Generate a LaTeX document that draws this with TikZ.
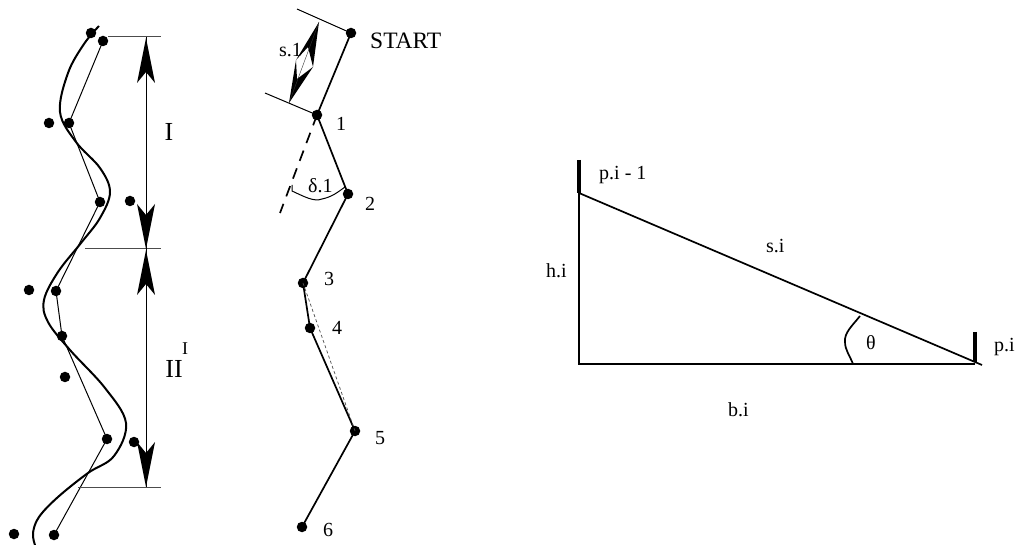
\documentclass[tikz,border=0pt]{standalone}
\usepackage{fontspec}
\setmainfont{Liberation Serif}
\tikzset{
  x=1pt,y=-1pt,
  dot/.style={circle,fill=black,inner sep=0pt,minimum size=10.5pt},
  thinline/.style={line width=1pt,black},
  midline/.style={line width=1.7pt,black},
  boldline/.style={line width=2pt,black},
  tickline/.style={line width=1pt,black!70},
  lab/.style={inner sep=0pt,font=\fontsize{20}{20}\selectfont},
  biglab/.style={inner sep=0pt,font=\fontsize{26}{26}\selectfont},
  pics/barb/.style={code={\fill[black] (0,0)--(-9,-45)--(0,-34)--(9,-45)--cycle;}}
}
\begin{document}
\begin{tikzpicture}
\useasboundingbox (0,0) rectangle (1018,545);
% left panel
\draw[boldline,line join=round] plot[smooth,tension=0.6] coordinates {(99,26) (84,44) (68,73) (60,112) (76,142) (100,168) (110,192) (100,218) (81,243) (58,272) (44,300) (48,322) (70,350) (105,388) (126,423) (114,456) (88,473) (58,497) (39,517) (33,533) (35,545)};
\foreach \n/\p in {a1/{91,33},b1/{103,41},a2/{49,123},b2/{69,123},b3/{100,202},a3/{130,201},a4/{29,290},b4/{56,291},b5/{62,336},a5/{65,377},b6/{107,439},a6/{134,442},a7/{14,534},b7/{54,535}}
  \node[dot] (\n) at (\p) {};
\draw[thinline] (b1.center)--(b2.center)--(b3.center)--(b4.center)--(b5.center)--(b6.center)--(b7.center);
\coordinate (t1) at (146,37); \coordinate (t2) at (146,249); \coordinate (t3) at (146,487);
\draw[tickline] (108,37)--(161,37);
\draw[tickline] (85,249)--(161,249);
\draw[tickline] (78,487)--(161,487);
\draw[thinline] (t1)--(t2);
\draw[thinline] (t2)--(t3);
\pic[yscale=-1] at (146,38) {barb};
\pic at (146,249) {barb};
\pic[yscale=-1] at (146,250) {barb};
\pic at (146,487) {barb};
\node[biglab] (I) at (169,132) {I};
\node[biglab] (II) at (174,369) {II};
\node[lab,font=\fontsize{18}{18}\selectfont] (Isup) at (185,349) {I};
% middle panel
\node[dot] (S) at (351,33) {};
\node[dot] (n1) at (317,115) {};
\node[dot] (n2) at (348,194) {};
\node[dot] (n3) at (303,283) {};
\node[dot] (n4) at (310,328) {};
\node[dot] (n5) at (355,431) {};
\node[dot] (n6) at (302,527) {};
\draw[midline] (S.center)--(n1.center)--(n2.center)--(n3.center)--(n4.center)--(n5.center)--(n6.center);
\draw[thinline] (297,9)--(S.center);
\draw[thinline] (265,93)--(n1.center);
\coordinate (d1) at (280,213);
\draw[midline,dash pattern=on 11pt off 8pt] (n1.center)--(d1);
\draw[dash pattern=on 3pt off 2.5pt,black!70,line width=0.7pt] (n3.center)--(n5.center);
\draw[thinline] (292,185)--(292,191) .. controls (305,197) and (314,202) .. (322,199) .. controls (332,197) and (338,192) .. (345,187);
\coordinate (s1a) at (319,22); \coordinate (s1b) at (289,103);
\fill[black] (s1a)--(296,60)--(308,47)--(313,67)--cycle;
\fill[black] (s1b)--(296,60)--(297,79)--(313,67)--cycle;
\draw[line width=0.4pt,black!80] (s1a)--(s1b);
\node[lab,anchor=base west] (ls1) at (279,57) {s.1};
\node[lab,anchor=base west] (lstart) at (370,49) {\fontsize{23.5}{24}\selectfont START};
\node[lab] (l1) at (341,124) {1};
\node[lab] (l2) at (370,204) {2};
\node[lab] (l3) at (329,279) {3};
\node[lab] (l4) at (337,328) {4};
\node[lab] (l5) at (380,438) {5};
\node[lab] (l6) at (328,530) {6};
\node[lab,anchor=base west] (ldelta) at (308,193) {δ.1};
% right panel
\coordinate (A) at (579,193); \coordinate (B) at (579,364); \coordinate (C) at (975,364);
\coordinate (Cx) at (982,365);
\draw[midline] (A)--(B)--(C);
\draw[midline] (A)--(Cx);
\draw[line width=4pt] (579,160)--(A);
\draw[line width=4pt] (975,332)--(975,362);
\draw[midline] (860,316) .. controls (852,326) and (844,333) .. (845,342) .. controls (845,350) and (850,356) .. (853,364);
\node[lab,anchor=base west] (lpi1) at (599,180) {p.i - 1};
\node[lab,anchor=base west] (lsi) at (766,253) {s.i};
\node[lab,anchor=base west] (lhi) at (546,278) {h.i};
\node[lab,anchor=base west] (lbi) at (728,417) {b.i};
\node[lab] (ltheta) at (871,343) {θ};
\node[lab,anchor=base west] (lpi) at (994,352) {p.i};
\end{tikzpicture}
\end{document}
